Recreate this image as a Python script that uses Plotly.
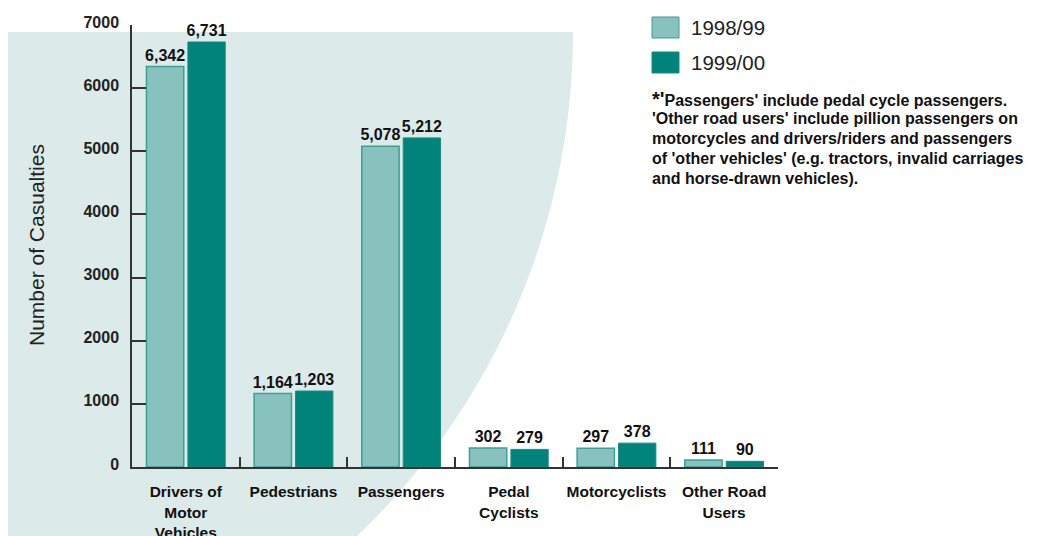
import numpy as np
import plotly.graph_objects as go

categories = ["Drivers of<br>Motor<br>Vehicles", "Pedestrians", "Passengers",
              "Pedal<br>Cyclists", "Motorcyclists", "Other Road<br>Users"]
series_names = ["1998/99", "1999/00"]
values_9899 = [6342, 1164, 5078, 302, 297, 111]
values_9900 = [6731, 1203, 5212, 279, 378, 90]
y_ticks = [0, 1000, 2000, 3000, 4000, 5000, 6000, 7000]
footnote_lines = [
    "<span style='font-size:20px'>*'</span>Passengers' include pedal cycle passengers.",
    "'Other road users' include pillion passengers on",
    "motorcycles and drivers/riders and passengers",
    "of 'other vehicles' (e.g. tractors, invalid carriages",
    "and horse-drawn vehicles).",
]

LIGHT = "#88c2be"
LIGHT_EDGE = "#3f9e96"
DARK = "#00837a"
DARK_EDGE = "#168b82"
BG = "#dceaea"
FONT = "Liberation Sans, Arial, sans-serif"

OFF = 8  # page body margin
W, H = 1062 - OFF, 536 - OFF
# plot area in screen pixels
SL, SR, ST, SB = 132, 778, 25, 467
L, R, T, B = SL - OFF, SR - OFF, ST - OFF, SB - OFF


def px(x):
    return (x - SL) / (SR - SL)


def py(y):
    return (SB - y) / (SB - ST)


xs = list(range(len(categories)))
fig = go.Figure()
fig.add_trace(go.Bar(
    x=xs, y=values_9899, name=series_names[0],
    marker=dict(color=LIGHT, line=dict(color=LIGHT_EDGE, width=1.5)),
    texttemplate="%{y:,}", textposition="outside", cliponaxis=False, constraintext="none",
    textfont=dict(family=FONT, size=16, color="#111", weight="bold"),
))
fig.add_trace(go.Bar(
    x=xs, y=values_9900, name=series_names[1],
    marker=dict(color=DARK, line=dict(color=DARK_EDGE, width=1)),
    texttemplate="%{y:,}", textposition="outside", cliponaxis=False, constraintext="none",
    textfont=dict(family=FONT, size=16, color="#111", weight="bold"),
))

# background quarter-disc decoration
theta = np.linspace(0, np.arcsin((545 - 32) / 696), 60)
arc_x = -123 + 696 * np.cos(theta)
arc_y = 32 + 696 * np.sin(theta)
pts = [(-10, 545), (-10, 32)] + list(zip(arc_x, arc_y))
path = "M " + " L ".join(f"{px(a):.5f},{py(b):.5f}" for a, b in pts) + " Z"

shapes = [dict(type="path", path=path, xref="paper", yref="paper",
               fillcolor=BG, line=dict(width=0), layer="below")]

# manual legend swatches
for (y0, y1), col, edge in [((17, 38), LIGHT, LIGHT_EDGE), ((52, 73), DARK, DARK_EDGE)]:
    shapes.append(dict(type="rect", xref="paper", yref="paper",
                       x0=px(652), x1=px(679), y0=py(y1), y1=py(y0),
                       fillcolor=col, line=dict(color=edge, width=1)))

annotations = [
    dict(x=px(689), y=py(27.5), xref="paper", yref="paper", text=series_names[0],
         showarrow=False, xanchor="left", yanchor="middle",
         font=dict(family=FONT, size=20.5, color="#222")),
    dict(x=px(689), y=py(62.5), xref="paper", yref="paper", text=series_names[1],
         showarrow=False, xanchor="left", yanchor="middle",
         font=dict(family=FONT, size=20.5, color="#222")),
    dict(x=px(36), y=py(245), xref="paper", yref="paper", text="Number of Casualties",
         showarrow=False, textangle=-90, xanchor="center", yanchor="middle",
         font=dict(family=FONT, size=21, color="#222")),
]
for i, line in enumerate(footnote_lines):
    annotations.append(dict(
        x=px(650), y=py(99 + 19.75 * i), xref="paper", yref="paper", text=line,
        showarrow=False, xanchor="left", yanchor="middle", align="left",
        font=dict(family=FONT, size=16, color="#111", weight="bold")))

fig.update_layout(
    width=W, height=H,
    margin=dict(l=L, r=W - R, t=T, b=H - B, pad=0, autoexpand=False),
    paper_bgcolor="white", plot_bgcolor="rgba(0,0,0,0)",
    barmode="group", bargap=0.23, bargroupgap=0.1,
    showlegend=False, shapes=shapes, annotations=annotations,
    font=dict(family=FONT),
)
fig.update_xaxes(
    type="category", tickmode="array", tickvals=xs, ticktext=categories,
    range=[-0.5, len(categories) - 0.5], automargin=False, tickangle=0,
    showline=True, linecolor="#333", linewidth=1.5,
    ticks="inside", tickson="boundaries", ticklen=10, tickcolor="#333", tickwidth=1.5,
    showgrid=False, zeroline=False, ticklabelstandoff=10,
    tickfont=dict(family=FONT, size=15.5, color="#111", weight="bold"),
)
fig.update_yaxes(
    range=[0, 7000], tickvals=y_ticks, tickformat="d", automargin=False,
    showline=True, linecolor="#333", linewidth=1.5,
    ticks="inside", ticklen=14, tickcolor="#333", tickwidth=1.5,
    showgrid=False, zeroline=False, ticklabelstandoff=8, ticklabelshift=-3,
    tickfont=dict(family=FONT, size=16, color="#222", weight="bold"),
)

fig.write_html("out.html")
